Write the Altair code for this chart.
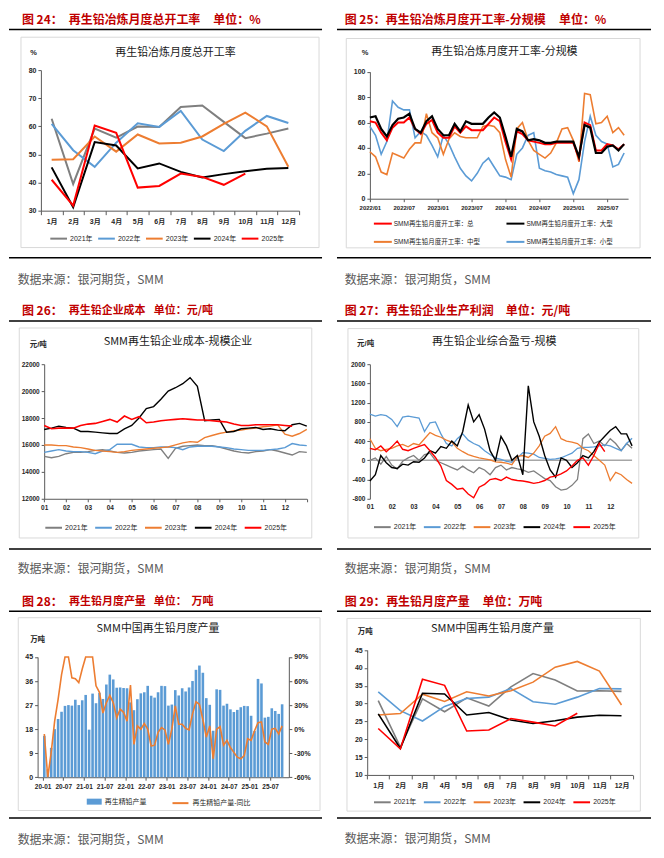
import json
import altair as alt
import pandas as pd

SANS = "Liberation Sans, Noto Sans CJK SC, sans-serif"
CJK = "Noto Sans CJK SC, sans-serif"
HEAD_RED = "#C00000"
AXC = "#595959"
TXT = "#262626"

# ---------------- data ----------------
months = ["1月", "2月", "3月", "4月", "5月", "6月", "7月", "8月", "9月", "10月", "11月", "12月"]
years = ["2021年", "2022年", "2023年", "2024年", "2025年"]
year_colors = ["#7F7F7F", "#5B9BD5", "#ED7D31", "#000000", "#FF0000"]

# Fig 24: total operating rate (%)
rate_2021 = [62.7, 39.5, 59.2, 56.0, 59.9, 59.8, 66.9, 67.4, 61.6, 55.8, 57.4, 59.2]
rate_2022 = [60.9, 51.5, 45.6, 54.2, 61.1, 59.8, 65.5, 55.3, 51.2, 58.4, 63.7, 61.2]
rate_2023 = [48.1, 48.3, 56.4, 51.0, 57.1, 53.9, 54.2, 56.4, 60.9, 64.9, 60.0, 45.6]
rate_2024 = [45.4, 31.2, 54.4, 53.2, 45.0, 46.8, 43.8, 41.8, 43.0, 44.0, 44.9, 45.2]
rate_2025 = [41.0, 31.8, 60.3, 57.7, 38.2, 38.8, 43.2, 42.0, 39.2, 43.2]

# Fig 25: operating rate by scale, monthly 2022/01 - 2025/10 (%)
scale_ticks = ["2022/01", "2022/07", "2023/01", "2023/07", "2024/01", "2024/07", "2025/01", "2025/07"]
scale_names = ["SMM再生铅月度开工率：总", "SMM再生铅月度开工率：大型",
               "SMM再生铅月度开工率：中型", "SMM再生铅月度开工率：小型"]
scale_colors = ["#FF0000", "#000000", "#ED7D31", "#5B9BD5"]
rate_total = [61, 60, 52, 46, 56, 60, 60, 64, 55, 51, 59, 62, 52, 48, 48, 57, 52, 57, 54, 54,
              54, 59, 64, 61, 45, 31, 53, 51, 46, 45, 44, 43, 43, 44, 44, 44, 44, 32, 60, 58,
              38, 38, 43, 42, 39, 43]
rate_large = [64, 65, 55, 49, 58, 63, 64, 67, 55, 52, 61, 65, 55, 50, 50, 59, 53, 61, 59, 59,
              59, 64, 68, 64, 49, 33, 55, 53, 46, 47, 46, 44, 44, 45, 45, 45, 45, 33, 58, 56,
              36, 36, 41, 42, 38, 43]
rate_mid = [37, 33, 21, 19, 36, 34, 32, 39, 44, 44, 67, 52, 48, 35, 47, 52, 49, 48, 48, 48,
            57, 58, 57, 52, 31, 17, 55, 60, 46, 38, 35, 32, 36, 44, 55, 56, 46, 29, 83, 82,
            59, 60, 65, 52, 56, 50]
rate_small = [57, 50, 35, 45, 77, 72, 70, 70, 48, 53, 50, 42, 33, 50, 43, 33, 24, 18, 14, 20,
              28, 32, 25, 18, 17, 15, 35, 40, 50, 52, 24, 22, 21, 19, 18, 17, 4, 15, 45, 65,
              50, 45, 43, 25, 27, 36]

# Fig 26: cost (yuan/t), sampled every 1/3 month
day_labels = ["01", "02", "03", "04", "05", "06", "07", "08", "09", "10", "11", "12"]
cost_2021 = [15150, 15050, 15150, 15350, 15450, 15450, 15500, 15600, 15650, 15550, 15450, 15400,
             15450, 15550, 15600, 15650, 15700, 15000, 15750, 15900, 15950, 16000, 15950, 15950,
             15850, 15700, 15550, 15450, 15400, 15500, 15550, 15650, 15550, 15400, 15250, 15500, 15450]
cost_2022 = [15450, 15550, 15650, 15550, 15500, 15500, 15450, 15350, 15550, 15650, 16050, 16050,
             16050, 15850, 15800, 15800, 15850, 15850, 15800, 15650, 15850, 15900, 15900, 15900,
             15850, 15800, 15700, 15650, 15600, 15600, 15600, 15650, 15700, 15800, 16100, 16000, 15950]
cost_2023 = [16000, 16000, 15950, 15950, 15850, 15800, 15700, 15600, 15550, 15500, 15450, 15500,
             15600, 15650, 15700, 15750, 15800, 15850, 16000, 16150, 16250, 16200, 16550, 16700,
             16850, 16950, 17050, 17100, 17200, 17250, 17350, 17400, 17500, 16800, 16650, 16850, 17150]
cost_2024 = [17150, 17250, 17400, 17300, 17250, 17000, 17000, 16950, 16900, 16850, 16850, 17200,
             17450, 18000, 18700, 18850, 19400, 20000, 20250, 20550, 21000, 20350, 17800, 17850,
             17900, 16950, 17000, 17200, 17250, 17300, 17150, 17200, 17100, 17050, 17500, 17600, 17400]
cost_2025 = [17450, 17200, 17250, 17250, 17250, 17450, 17550, 17600, 17750, 17900, 17700, 18150,
             17900, 18100, 17650, 17700, 17800, 17850, 17900, 17950, 17900, 17850, 17850, 17800,
             17750, 17700, 17550, 17450, 17450, 17500, 17500, 17500, 17500, 17450, 17400]

# Fig 27: profit (yuan/t), sampled every 1/4 month
profit_2021 = [0, 50, -80, 80, -100, -180, -20, 50, 100, 0, 120, 150, 0, -50, -100, -150, -200,
               -120, -200, -260, -150, -200, -300, -150, -100, -200, -150, -180, -200, -250, -220,
               -300, -380, -420, -550, -620, -600, -520, -400, 450, 550, 350, 400, 300, 450, 350,
               200, 350, 250]
profit_2022 = [960, 920, 950, 930, 850, 700, 900, 920, 900, 880, 600, 780, 800, 550, 350, 300,
               450, 550, 420, 350, 300, 200, 120, 50, 20, -20, -40, 50, 160, 150, 130, 60, 40, 20,
               30, 50, 100, 150, 250, 270, 270, 280, 300, 320, 300, 250, 200, 350, 460]
profit_2023 = [450, 250, 200, 230, 250, 300, 330, 280, 350, 320, 450, 580, 520, 480, 420, 380,
               250, 180, 120, 80, 50, 30, 10, -30, -40, -60, -90, 80, 100, 60, 150, 300, 500, 560,
               700, 450, 400, 380, 350, 250, 200, 100, 0, -100, -420, -250, -300, -400, -480]
profit_2024 = [-430, -300, 100, -50, -150, -170, -80, -100, -30, -40, 50, 200, 150, 285, 250,
               400, 300, 600, 1150, 800, 950, 650, 200, 0, 500, 300, 0, 100, -300, 1550, 800, 500,
               100, -200, -350, 50, 0, -150, -50, 100, 50, 180, 380, 500, 620, 700, 550, 550, 300]
profit_2025 = [250, 220, 300, 180, 280, 400, 230, 200, 250, 290, 330, 200, 60, -120, -420, -500,
               -600, -580, -700, -780, -560, -500, -400, -380, -420, -350, -400, -420, -430, -450,
               -480, -460, -420, -350, -330, -280, -220, -120, 0, 50, -100, 100, 350, 180]

# Fig 28 / 29: monthly production (10k t)
prod_ticks = ["20-01", "20-07", "21-01", "21-07", "22-01", "22-07", "23-01", "23-07",
              "24-01", "24-07", "25-01", "25-07"]
prod_2020 = [15.5, 3.0, 11.0, 18.0, 21.8, 24.5, 26.7, 27.0, 26.8, 29.0, 27.0, 28.8]
prod_2021 = [30.8, 17.8, 31.3, 27.7, 31.6, 29.3, 34.7, 38.4, 36.6, 33.5, 33.6, 33.4]
prod_2022 = [33.3, 28.0, 25.1, 29.2, 31.4, 31.8, 34.2, 30.5, 29.8, 31.8, 34.2, 34.1]
prod_2023 = [26.8, 27.2, 32.6, 30.6, 33.3, 32.1, 33.6, 36.0, 40.2, 41.8, 39.1, 29.6]
prod_2024 = [27.1, 17.4, 32.9, 32.7, 26.8, 27.5, 25.4, 24.4, 25.2, 26.2, 26.7, 26.6]
prod_2025 = [23.0, 17.3, 36.8, 35.1, 22.3, 22.6, 25.8, 24.8, 23.7, 27.3]
prod_yoy = [-6, -70, -29, 10, 37, 68, 95, 92, 64, 63, 58, 75,
            99, 490, 185, 54, 46, 20, 33, 42, 33, 14, 25, 21,
            10, 55, -19, 4, 0, 7, 0, -21, -20, -4, 2, -1,
            -19, 0, 29, 6, 6, 1, -1, 19, 34, 31, 12, -10,
            4, -37, 0, 3, -20, -14, -23, -29, -35, -37, -33, -12,
            -14, -2, 8, 9, -16, -19, 0, 1, -6, 4]
bar_name = "再生精铅产量"
yoy_name = "再生精铅产量-同比"

# ---------------- texts ----------------
head_texts = [
    ["图 24：", "再生铅冶炼月度总开工率", "单位：%"],
    ["图 25：", "再生铅冶炼月度开工率-分规模", "单位：%"],
    ["图 26：", "再生铅企业成本", "单位：元/吨"],
    ["图 27：", "再生铅企业生产利润", "单位：元/吨"],
    ["图 28：", "再生铅月度产量", "单位：", "万吨"],
    ["图 29：", "再生铅月度产量", "单位：万吨"],
]
inner_titles = ["再生铅冶炼月度总开工率", "再生铅冶炼月度开工率-分规模", "SMM再生铅企业成本-规模企业",
                "再生铅企业综合盈亏-规模", "SMM中国再生铅月度产量", "SMM中国再生铅月度产量"]
unit_texts = ["%", "%", "元/吨", "元/吨", "万吨", "万吨"]
source_text = "数据来源：银河期货，SMM"

# ---------------- layout (pixels, panel-local) ----------------
LAY = [
    dict(W=328, H=290, hx=[13, 60, 205], hs=12, hy=10.3, rw=314, ry=20.3, box=(12, 28, 311, 239),
         tt=(167, 43.7), un=(24.7, 44.3), by=249.3, src=(8.7, 271.3)),
    dict(W=320, H=290, hx=[7.7, 49, 222.7], hs=12, hy=10.3, rw=315, ry=20.3, box=(9.3, 29.3, 304, 239.3),
         tt=(168, 42.7), un=(28.3, 44.3), by=249.3, src=(7.7, 271.3)),
    dict(W=328, H=292, hx=[13, 60, 145.3], hs=11, hy=12.7, rw=314, ry=22.7, box=(10.3, 29.7, 303.7, 240.3),
         tt=(169.5, 43.7), un=(29.3, 47), by=251.3, src=(8.7, 271.3)),
    dict(W=320, H=292, hx=[7.7, 49.3, 169.3], hs=12, hy=12.7, rw=315, ry=22.7, box=(11, 30.3, 302.7, 240.3),
         tt=(157.7, 43.7), un=(28.7, 45.3), by=251.3, src=(7.7, 271.3)),
    dict(W=328, H=252, hx=[13, 60.3, 145.3, 183], hs=11, hy=12.3, rw=314, ry=21.7, box=(9.3, 28.3, 312, 221.7),
         tt=(149.5, 40), un=(28.7, 50.7), by=229.3, src=(8.7, 251.5)),
    dict(W=320, H=252, hx=[7.7, 49.3, 146], hs=12, hy=12.3, rw=315, ry=21.7, box=(10, 29, 304.3, 222.3),
         tt=(156, 39.3), un=(28.3, 42.7), by=229.3, src=(7.7, 250.5)),
]


def one():
    return pd.DataFrame({"a": [0]})


def text(t, x, y, size, color, weight="normal", align="left", font=CJK):
    return alt.Chart(pd.DataFrame({"t": [t]})).mark_text(
        align=align, baseline="middle", fontSize=size, fontWeight=weight, color=color, font=font
    ).encode(x=alt.value(x), y=alt.value(y), text="t:N")


def hrule(x1, x2, y, color="#000000", w=1.5):
    return alt.Chart(one()).mark_rule(color=color, strokeWidth=w).encode(
        x=alt.value(x1), x2=alt.value(x2), y=alt.value(y))


def deco(k):
    L = LAY[k]
    out = []
    for j, (t, x) in enumerate(zip(head_texts[k], L["hx"])):
        out.append(text(t, x, L["hy"], 12 if j == 0 else L["hs"], HEAD_RED, "bold"))
    out.append(hrule(0, L["rw"], L["ry"]))
    x1, y1, x2, y2 = L["box"]
    out.append(alt.Chart(one()).mark_rect(fill="transparent", stroke="#D9D9D9", strokeWidth=1).encode(
        x=alt.value(x1), x2=alt.value(x2), y=alt.value(y1), y2=alt.value(y2)))
    out.append(text(inner_titles[k], L["tt"][0], L["tt"][1], 11, "#1a1a1a", align="center"))
    out.append(text(unit_texts[k], L["un"][0], L["un"][1], 7.5, TXT, "bold", align="center", font=SANS))
    out.append(hrule(0, L["rw"], L["by"]))
    out.append(text(source_text, L["src"][0], L["src"][1], 12, "#595959"))
    return out


def axis(**kw):
    base = dict(title=None, grid=False, labelFont=SANS, labelFontSize=7, labelFontWeight="bold",
                labelColor=TXT, domainColor=AXC, tickColor=AXC, domainWidth=1, tickWidth=1,
                tickSize=3, labelPadding=2, labelOverlap=False, labelFlush=False)
    base.update(kw)
    return alt.Axis(**base)


def legend(x, y, cols, **kw):
    base = dict(orient="none", legendX=x, legendY=y, direction="horizontal", columns=cols, title=None,
                symbolType="stroke", symbolSize=280, symbolStrokeWidth=2, labelFont=SANS,
                labelFontSize=7, labelColor=TXT, labelOffset=2, columnPadding=1, padding=0, rowPadding=0)
    base.update(kw)
    return alt.Legend(**base)


def series_lines(df, names, colors, x, y, leg, widths, draw=None, order=False):
    out = []
    draw = draw if draw is not None else list(range(len(names)))
    for j, w in zip(draw, widths):
        name = names[j]
        enc = dict(x=x, y=y, color=alt.Color("s:N", scale=alt.Scale(domain=names, range=colors), legend=leg))
        if order:
            enc["order"] = alt.Order("idx:Q")
        out.append(alt.Chart(df[df["s"] == name]).mark_line(strokeWidth=w).encode(**enc))
    return out


def year_frame(lists):
    rows = []
    for name, vals in zip(years, lists):
        for j, v in enumerate(vals):
            rows.append({"s": name, "month": months[j], "idx": j, "v": v})
    return pd.DataFrame(rows)


PLAIN = "'' + datum.value"

# ---------- panel 1 ----------
L = LAY[0]
df1 = year_frame([rate_2021, rate_2022, rate_2023, rate_2024, rate_2025])
x1 = alt.X("month:N", scale=alt.Scale(type="band", domain=months, range=[32, 291], paddingInner=0, paddingOuter=0),
           bandPosition=0.5, axis=axis(offset=-(L["H"] - 202), tickBand="extent", labelAngle=0, tickSize=4,
                                       labelPadding=3))
y1 = alt.Y("v:Q", scale=alt.Scale(domain=[30, 80], range=[202, 61], nice=False, zero=False),
           axis=axis(offset=-32, values=[30, 40, 50, 60, 70, 80]))
p1 = alt.layer(*deco(0), *series_lines(df1, years, year_colors, x1, y1, legend(40.3, 220.3, 5, columnPadding=1),
                                       [2, 2, 2, 2, 2], order=True)).properties(width=L["W"], height=L["H"])

# ---------- panel 2 ----------
L = LAY[1]
rows = []
for name, vals in zip(scale_names, [rate_total, rate_large, rate_mid, rate_small]):
    for i, v in enumerate(vals):
        rows.append({"s": name, "i": i, "v": v})
df2 = pd.DataFrame(rows)
x2 = alt.X("i:Q", scale=alt.Scale(domain=[0, 45.7], range=[33, 292], nice=False, zero=False),
           axis=axis(offset=-(L["H"] - 190), values=[0, 6, 12, 18, 24, 30, 36, 42], labelFontSize=6,
                     labelExpr=json.dumps(scale_ticks) + "[round(datum.value/6)]", tickSize=3, labelPadding=3))
y2 = alt.Y("v:Q", scale=alt.Scale(domain=[0, 100], range=[190, 62.7], nice=False, zero=False),
           axis=axis(offset=-33, values=[0, 20, 40, 60, 80, 100]))
leg2 = legend(36, 205, 2, columnPadding=22, rowPadding=4.3, labelFontSize=6.5, symbolSize=324, labelOffset=1)
p2 = alt.layer(*deco(1), *series_lines(df2, scale_names, scale_colors, x2, y2, leg2, [1.6, 1.6, 2.0, 2.2],
                                       draw=[3, 2, 0, 1])).properties(width=L["W"], height=L["H"])

# ---------- panel 3 ----------
L = LAY[2]
rows = []
for name, vals in zip(years, [cost_2021, cost_2022, cost_2023, cost_2024, cost_2025]):
    for k, v in enumerate(vals):
        rows.append({"s": name, "m": k / 3, "v": v})
df3 = pd.DataFrame(rows)
lab12 = json.dumps(day_labels)
x3 = alt.X("m:Q", scale=alt.Scale(domain=[0, 12], range=[35.3, 298.7], nice=False, zero=False),
           axis=axis(offset=-(L["H"] - 201), values=list(range(13)), labelFontSize=6.5, tickSize=3,
                     labelExpr="datum.value < 12 ? " + lab12 + "[datum.value] : ''", labelPadding=3))
y3 = alt.Y("v:Q", scale=alt.Scale(domain=[12000, 22000], range=[201, 66], nice=False, zero=False),
           axis=axis(offset=-35.3, values=[12000, 14000, 16000, 18000, 20000, 22000], labelFontSize=6.5,
                     labelExpr=PLAIN))
p3 = alt.layer(*deco(2), *series_lines(df3, years, year_colors, x3, y3, legend(35.3, 220.3, 5, columnPadding=3),
                                       [1.4, 1.4, 1.4, 1.4, 1.6])).properties(width=L["W"], height=L["H"])

# ---------- panel 4 ----------
L = LAY[3]
rows = []
for name, vals in zip(years, [profit_2021, profit_2022, profit_2023, profit_2024, profit_2025]):
    for k, v in enumerate(vals):
        rows.append({"s": name, "m": k / 4, "v": v})
df4 = pd.DataFrame(rows)
sx4 = alt.Scale(domain=[0, 12], range=[33, 296], nice=False, zero=False)
sy4 = alt.Scale(domain=[-800, 2000], range=[201, 66], nice=False, zero=False)
ax4 = axis(offset=-(L["H"] - 201), values=list(range(12)), labelFontSize=6.5, domain=False,
           ticks=False, labelExpr=lab12 + "[datum.value]", labelPadding=5)
ay4 = axis(offset=-33, values=[-800, -400, 0, 400, 800, 1200, 1600, 2000], labelFontSize=6.5, labelExpr=PLAIN)
x4 = alt.X("m:Q", scale=sx4, axis=ax4)
y4 = alt.Y("v:Q", scale=sy4, axis=ay4)
zero4 = alt.Chart(one()).mark_rule(color="#A6A6A6", strokeWidth=1.5).encode(
    x=alt.X(datum=0, scale=sx4, axis=ax4), x2=alt.datum(12), y=alt.Y(datum=0, scale=sy4, axis=ay4))
p4 = alt.layer(*deco(3), zero4, *series_lines(df4, years, year_colors, x4, y4, legend(36, 219.7, 5, columnPadding=3),
                                              [1.3, 1.3, 1.3, 1.4, 1.4])).properties(width=L["W"], height=L["H"])

# ---------- panel 5 ----------
L = LAY[4]
bars_all = prod_2020 + prod_2021 + prod_2022 + prod_2023 + prod_2024 + prod_2025
df5 = pd.DataFrame({"i": list(range(len(bars_all))), "v": bars_all, "yoy": prod_yoy,
                    "bn": [bar_name] * len(bars_all), "ln": [yoy_name] * len(bars_all)})
x5 = alt.X("xc:Q", scale=alt.Scale(domain=[0, 70], range=[28.7, 280.7], nice=False, zero=False),
           axis=axis(offset=-(L["H"] - 188.3), values=[0, 6, 12, 18, 24, 30, 36, 42, 48, 54, 60, 66],
                     labelFontSize=6.5, labelExpr=json.dumps(prod_ticks) + "[round(datum.value/6)]",
                     tickSize=3, labelPadding=3))
bars5 = alt.Chart(df5).transform_calculate(xc="datum.i + 0.5").mark_bar(size=2.6).encode(
    x=x5,
    y=alt.Y("v:Q", scale=alt.Scale(domain=[0, 45], range=[188.3, 67.7], nice=False, zero=True),
            axis=axis(offset=-28.7, values=[0, 9, 18, 27, 36, 45], orient="left")),
    color=alt.Color("bn:N", scale=alt.Scale(domain=[bar_name], range=["#5B9BD5"]),
                    legend=legend(78, 205.3, 1, symbolType="M-1,-0.4H1V0.4H-1Z", symbolSize=225,
                                  symbolStrokeWidth=0, labelFontSize=7, labelOffset=3)))
line5 = alt.Chart(df5).transform_calculate(xc="datum.i + 0.5").mark_line(strokeWidth=1.6).encode(
    x=x5,
    y=alt.Y("yoy:Q", scale=alt.Scale(domain=[-60, 90], range=[188.3, 67.7], nice=False, zero=False, clamp=True),
            axis=axis(offset=-(L["W"] - 280.7), orient="right", values=[-60, -30, 0, 30, 60, 90],
                      labelExpr="datum.value + '%'")),
    stroke=alt.Stroke("ln:N", scale=alt.Scale(domain=[yoy_name], range=["#ED7D31"]),
                      legend=legend(163, 205.3, 1, symbolSize=256, labelFontSize=7, labelOffset=3)))
p5 = alt.layer(*deco(4), bars5, line5).resolve_scale(y="independent").properties(width=L["W"], height=L["H"])

# ---------- panel 6 ----------
L = LAY[5]
df6 = year_frame([prod_2021, prod_2022, prod_2023, prod_2024, prod_2025])
x6 = alt.X("month:N", scale=alt.Scale(type="band", domain=months, range=[30.3, 296.5], paddingInner=0, paddingOuter=0),
           bandPosition=0.5, axis=axis(offset=-(L["H"] - 186), tickBand="extent", labelAngle=0, tickSize=4,
                                       labelPadding=3))
y6 = alt.Y("v:Q", scale=alt.Scale(domain=[10, 45], range=[186, 60.7], nice=False, zero=False),
           axis=axis(offset=-30.3, values=[10, 15, 20, 25, 30, 35, 40, 45]))
p6 = alt.layer(*deco(5), *series_lines(df6, years, year_colors, x6, y6, legend(36, 203.7, 5, columnPadding=3),
                                       [1.6, 1.6, 1.6, 1.6, 1.6], order=True)).properties(width=L["W"], height=L["H"])

ind = dict(color="independent", stroke="independent")
row1 = alt.hconcat(p1, p2, spacing=0).resolve_scale(**ind)
row2 = alt.hconcat(p3, p4, spacing=0).resolve_scale(**ind)
row3 = alt.hconcat(p5, p6, spacing=0).resolve_scale(**ind)
chart = alt.vconcat(row1, row2, row3, spacing=0).resolve_scale(**ind).properties(
    padding=0, background="white"
).configure_view(strokeWidth=0)

chart.save("out.html", embed_options={"renderer": "svg", "actions": False})
